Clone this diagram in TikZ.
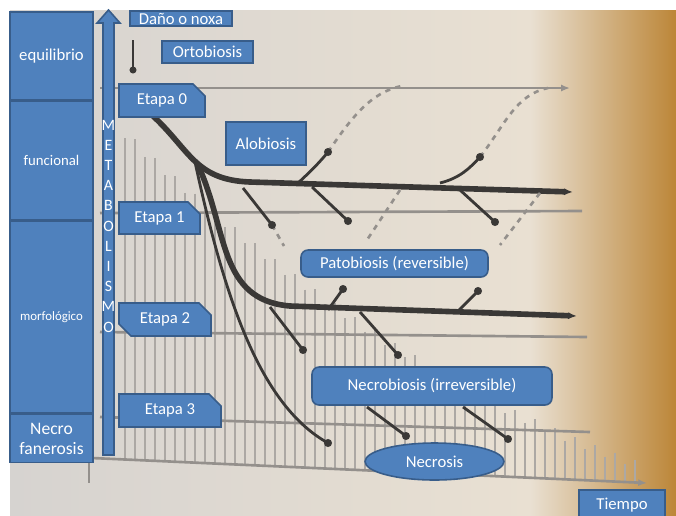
\documentclass[tikz,border=0pt]{standalone}
\usepackage{fontspec}
\setmainfont{Carlito}
\usetikzlibrary{arrows.meta,positioning,shapes.geometric,shapes.misc}
\definecolor{cajaazul}{RGB}{79,129,189}
\definecolor{cajaborde}{RGB}{56,93,138}
\definecolor{papel}{RGB}{214,211,208}
\definecolor{papelc}{RGB}{233,224,210}
\definecolor{papelo}{RGB}{188,134,56}
\definecolor{trazo}{RGB}{148,144,140}
\definecolor{tinta}{RGB}{58,56,54}
\definecolor{rayas}{RGB}{172,168,164}

\tikzset{
  caja/.style={draw=cajaborde, fill=cajaazul, text=white, line width=0.9pt,
    inner sep=0pt, align=center, font=\fontsize{9.5}{11}\selectfont},
  lado/.style={caja, minimum width=1.66cm},
  etapa/.style={caja, chamfered rectangle, chamfered rectangle xsep=0.12cm,
    chamfered rectangle ysep=0.12cm, chamfered rectangle corners={north east}},
  redonda/.style={caja, rounded corners=4pt},
  letra/.style={text=white, inner sep=0pt, font=\fontsize{9}{9}\selectfont},
  gris/.style={trazo, line width=1.5pt},
  grueso/.style={tinta, line width=3.2pt},
  fino/.style={tinta, line width=1.6pt},
}

\begin{document}
\begin{tikzpicture}[x=0.02cm, y=-0.02cm, >={Latex[length=5pt,width=4pt]}]
\useasboundingbox (0,0) rectangle (676,515);
\clip (0,0) rectangle (676,515);
% fondo de la foto
\fill[white] (0,0) rectangle (676,515);
\shade[left color=papel, right color=papelc] (10,10) rectangle (530,515);
\shade[left color=papelc, right color=papelo] (530,10) rectangle (676,515);

% rayado vertical
\foreach \x [count=\k] in {125,135,...,635} {
  \pgfmathsetmacro{\u}{\x-125}
  \pgfmathsetmacro{\tope}{130+0.95*\u-0.0006*\u*\u+8*mod(\k,2)}
  \pgfmathsetmacro{\base}{458+0.045*(\x-92)}
  \draw[rayas, line width=1.4pt] (\x,\tope) -- (\x,\base);
}

% lineas del grafico
\draw[gris, ->] (100,88) -- (570,88);
\draw[gris] (100,213) -- (582,211);
\draw[gris] (100,332) -- (587,337);
\draw[gris] (100,417) -- (590,432);
\draw[gris, ->] (92,458) -- (647,483);
\draw[gris] (89,462) -- (89,483);
\draw[fino] (133,40) -- (133,70);
\fill[tinta] (133,70) circle (2pt);

\draw[grueso, ->] (152,115) .. controls (190,150) and (195,180) .. (250,182) -- (573,192);
\draw[grueso, ->] (198,165) .. controls (228,230) and (218,300) .. (290,306) -- (577,316);
\draw[fino] (195,162) .. controls (225,300) and (260,405) .. (328,443);

% ramas arriba
\draw[fino] (298,183) .. controls (310,172) and (320,162) .. (328,152);
\draw[gris, dashed] (328,152) .. controls (350,120) and (370,92) .. (402,86);
\draw[fino] (440,183) .. controls (460,178) and (470,168) .. (480,157);
\draw[gris, dashed] (480,157) .. controls (505,125) and (515,95) .. (548,88);
% ramas abajo
\draw[fino] (243,188) -- (272,225);
\draw[gris, dashed] (272,225) -- (284,246);
\draw[fino] (312,187) -- (348,221);
\draw[fino] (460,190) -- (495,222);
\draw[gris, dashed] (400,190) -- (367,240);
\draw[gris, dashed] (540,193) -- (500,245);
\draw[fino] (328,310) -- (343,289);
\draw[fino] (458,311) -- (478,291);
\draw[fino] (360,312) -- (398,355);
\draw[fino] (270,307) -- (303,350);
\draw[fino] (367,407) -- (406,436);
\draw[fino] (463,407) -- (508,439);
\foreach \p in {(328,152),(480,157),(272,225),(348,221),(495,222),(343,289),
  (478,291),(398,355),(303,350),(328,443),(406,436),(508,439)}
  \fill[tinta] \p circle (2.3pt);

% columna izquierda
\node[lado, minimum height=1.76cm] (eq) at (51.5,56) {equilibrio};
\node[lado, minimum height=2.36cm, below=0pt of eq,
  font=\fontsize{8.4}{10}\selectfont] (fun) {funcional};
\node[lado, minimum height=3.84cm, below=0pt of fun,
  font=\fontsize{7.3}{9}\selectfont] (morf) {morfológico};
\node[lado, minimum height=0.96cm, below=0pt of morf,
  font=\fontsize{10}{11.5}\selectfont] (necrof) {Necro\\fanerosis};

% flecha METABOLISMO
\draw[cajaborde, fill=cajaazul, line width=0.9pt] (103,455) -- (103,23) -- (97,23)
  -- (108.5,10) -- (120,23) -- (114,23) -- (114,455) -- cycle;
\foreach \l [count=\i] in {M,E,T,A,B,O,L,I,S,M,O}
  \node[letra] (m\i) at (108.5,{125+20.2*(\i-1)}) {\l};

% cajas
\node[caja, minimum width=2.04cm, minimum height=0.30cm] (dano) at (181,18.5) {Daño o noxa};
\node[caja, minimum width=1.82cm, minimum height=0.44cm] (orto) at (207.5,52) {Ortobiosis};
\node[etapa, minimum width=1.72cm, minimum height=0.66cm] (e0) at (162,100.5) {Etapa 0};
\node[caja, minimum width=1.6cm, minimum height=0.86cm] (alo) at (266,143.5) {Alobiosis};
\node[etapa, minimum width=1.62cm, minimum height=0.64cm] (e1) at (159.5,218) {Etapa 1};
\node[etapa, chamfered rectangle corners={north east,south west},
  minimum width=1.84cm, minimum height=0.66cm] (e2) at (165,319.5) {Etapa 2};
\node[etapa, minimum width=2.04cm, minimum height=0.66cm] (e3) at (170,410.5) {Etapa 3};
\node[redonda, minimum width=3.74cm, minimum height=0.54cm] (pato) at (394.5,263.5) {Patobiosis (reversible)};
\node[redonda, minimum width=4.8cm, minimum height=0.76cm] (necrob) at (432,386) {Necrobiosis (irreversible)};
\node[caja, ellipse, minimum width=2.78cm, minimum height=0.74cm] (necrosis) at (434.5,461.5) {Necrosis};
\node[caja, minimum width=1.72cm, minimum height=0.6cm] (tiempo) at (622,505) {Tiempo};
\end{tikzpicture}
\end{document}
